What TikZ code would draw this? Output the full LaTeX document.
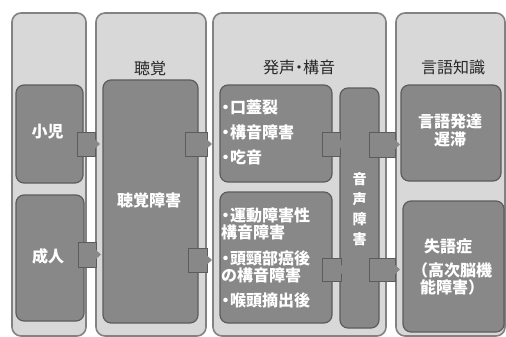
\documentclass[tikz,border=0pt]{standalone}
\usepackage{fontspec}
\setmainfont{Noto Sans CJK JP}
\definecolor{colfill}{RGB}{216,216,216}
\definecolor{coledge}{RGB}{130,130,130}
\definecolor{boxfill}{RGB}{136,136,136}
\definecolor{boxedge}{RGB}{92,92,92}
\definecolor{headtxt}{RGB}{40,40,40}
\newcommand\bl{\makebox[9pt]{\makebox[0pt]{・}}}
\newcommand\nd{\makebox[8pt]{\makebox[0pt]{・}}}
\tikzset{
  colbox/.style={draw=coledge, fill=colfill, line width=1.6pt, rounded corners=9pt, inner sep=0pt, outer sep=0pt},
  ibox/.style={draw=boxedge, fill=boxfill, line width=1.2pt, rounded corners=8pt, inner sep=0pt, outer sep=0pt},
  conn/.style={draw=boxedge, fill=boxfill, line width=0.6pt, inner sep=0pt, outer sep=0pt},
  wtext/.style={text=white, inner sep=0pt, font=\fontsize{16}{17}\selectfont\bfseries},
  htext/.style={text=headtxt, inner sep=0pt, font=\fontsize{16}{17}\selectfont},
}
\newcommand\tip[1]{\fill[boxfill] ([yshift=4.5pt]#1.east) -- ([xshift=5pt]#1.east) -- ([yshift=-4.5pt]#1.east) -- cycle;}
\begin{document}
\begin{tikzpicture}[x=1pt,y=-1pt]
\useasboundingbox (0,0) rectangle (506,337);
\fill[white] (0,0) rectangle (506,337);
% columns
\node[colbox, minimum width=74pt, minimum height=323pt] (col1) at (49,174.5) {};
\node[colbox, minimum width=110pt, minimum height=323pt] (col2) at (151,174.5) {};
\node[colbox, minimum width=173pt, minimum height=323pt] (col3) at (299.5,174.5) {};
\node[colbox, minimum width=109pt, minimum height=323pt] (col4) at (450.5,174.5) {};
% headers
\node[htext] (h2) at (150,68) {聴覚};
\node[htext] (h3) at (299,67) {発声\nd 構音};
\node[htext] (h4) at (453,67) {言語知識};
% inner boxes
\node[ibox, minimum width=67pt, minimum height=98pt] (child) at (49.5,134) {};
\node[ibox, minimum width=68pt, minimum height=126pt] (adult) at (50,258) {};
\node[ibox, minimum width=95pt, minimum height=243pt] (hear) at (150.5,201.5) {};
\node[ibox, minimum width=112pt, minimum height=97pt] (art1) at (276,133.5) {};
\node[ibox, minimum width=112pt, minimum height=131pt] (art2) at (276,257.5) {};
\node[ibox, minimum width=39pt, minimum height=240pt] (voice) at (359.5,208) {};
\node[ibox, minimum width=100pt, minimum height=96pt] (lang) at (451,133) {};
\node[ibox, minimum width=101pt, minimum height=131pt] (aph) at (453.5,266.5) {};
% texts
\node[wtext] (tchild) at (47.5,132) {小児};
\node[wtext] (tadult) at (48,256) {成人};
\node[wtext] (thear) at (149,200) {聴覚障害};
\node[wtext, anchor=west] (t1) at (221,107) {\bl 口蓋裂};
\node[wtext, anchor=west] (t2) at (221,132) {\bl 構音障害};
\node[wtext, anchor=west] (t3) at (221,157) {\bl 吃音};
\node[wtext, anchor=west, align=left] (t4) at (221,224) {\bl 運動障害性\\構音障害};
\node[wtext, anchor=west, align=left] (t5) at (221,266.5) {\bl 頭頸部癌後\\の構音障害};
\node[wtext, anchor=west] (t6) at (221,300) {\bl 喉頭摘出後};
\node[text=white, inner sep=0pt, align=center, font=\fontsize{14}{20}\selectfont\bfseries] (tvoice) at (359.5,209) {音\\声\\障\\害};
\node[wtext, align=center, font=\fontsize{16}{18}\selectfont\bfseries] (tlang) at (450,130) {言語発達\\遅滞};
\node[wtext] (taph1) at (448,246) {失語症};
\node[wtext, align=center] (taph2) at (452,278.5) {（高次脳機\\能障害）};
% connectors
\node[conn, minimum width=18pt, minimum height=24pt] (c1) at (86,144) {};
\node[conn, minimum width=22pt, minimum height=24pt] (c2) at (196,144) {};
\node[conn, minimum width=18pt, minimum height=24pt] (c3) at (331,144) {};
\node[conn, minimum width=26pt, minimum height=25pt] (c4) at (382,144.5) {};
\node[conn, minimum width=18pt, minimum height=25pt] (c5) at (87,254.5) {};
\node[conn, minimum width=19pt, minimum height=24pt] (c6) at (197.5,260) {};
\node[conn, minimum width=19pt, minimum height=23pt] (c7) at (331.5,269.5) {};
\node[conn, minimum width=26pt, minimum height=23pt] (c8) at (382,269.5) {};
\tip{c1}\tip{c2}\tip{c3}\tip{c4}\tip{c5}\tip{c6}\tip{c7}\tip{c8}
\end{tikzpicture}
\end{document}
